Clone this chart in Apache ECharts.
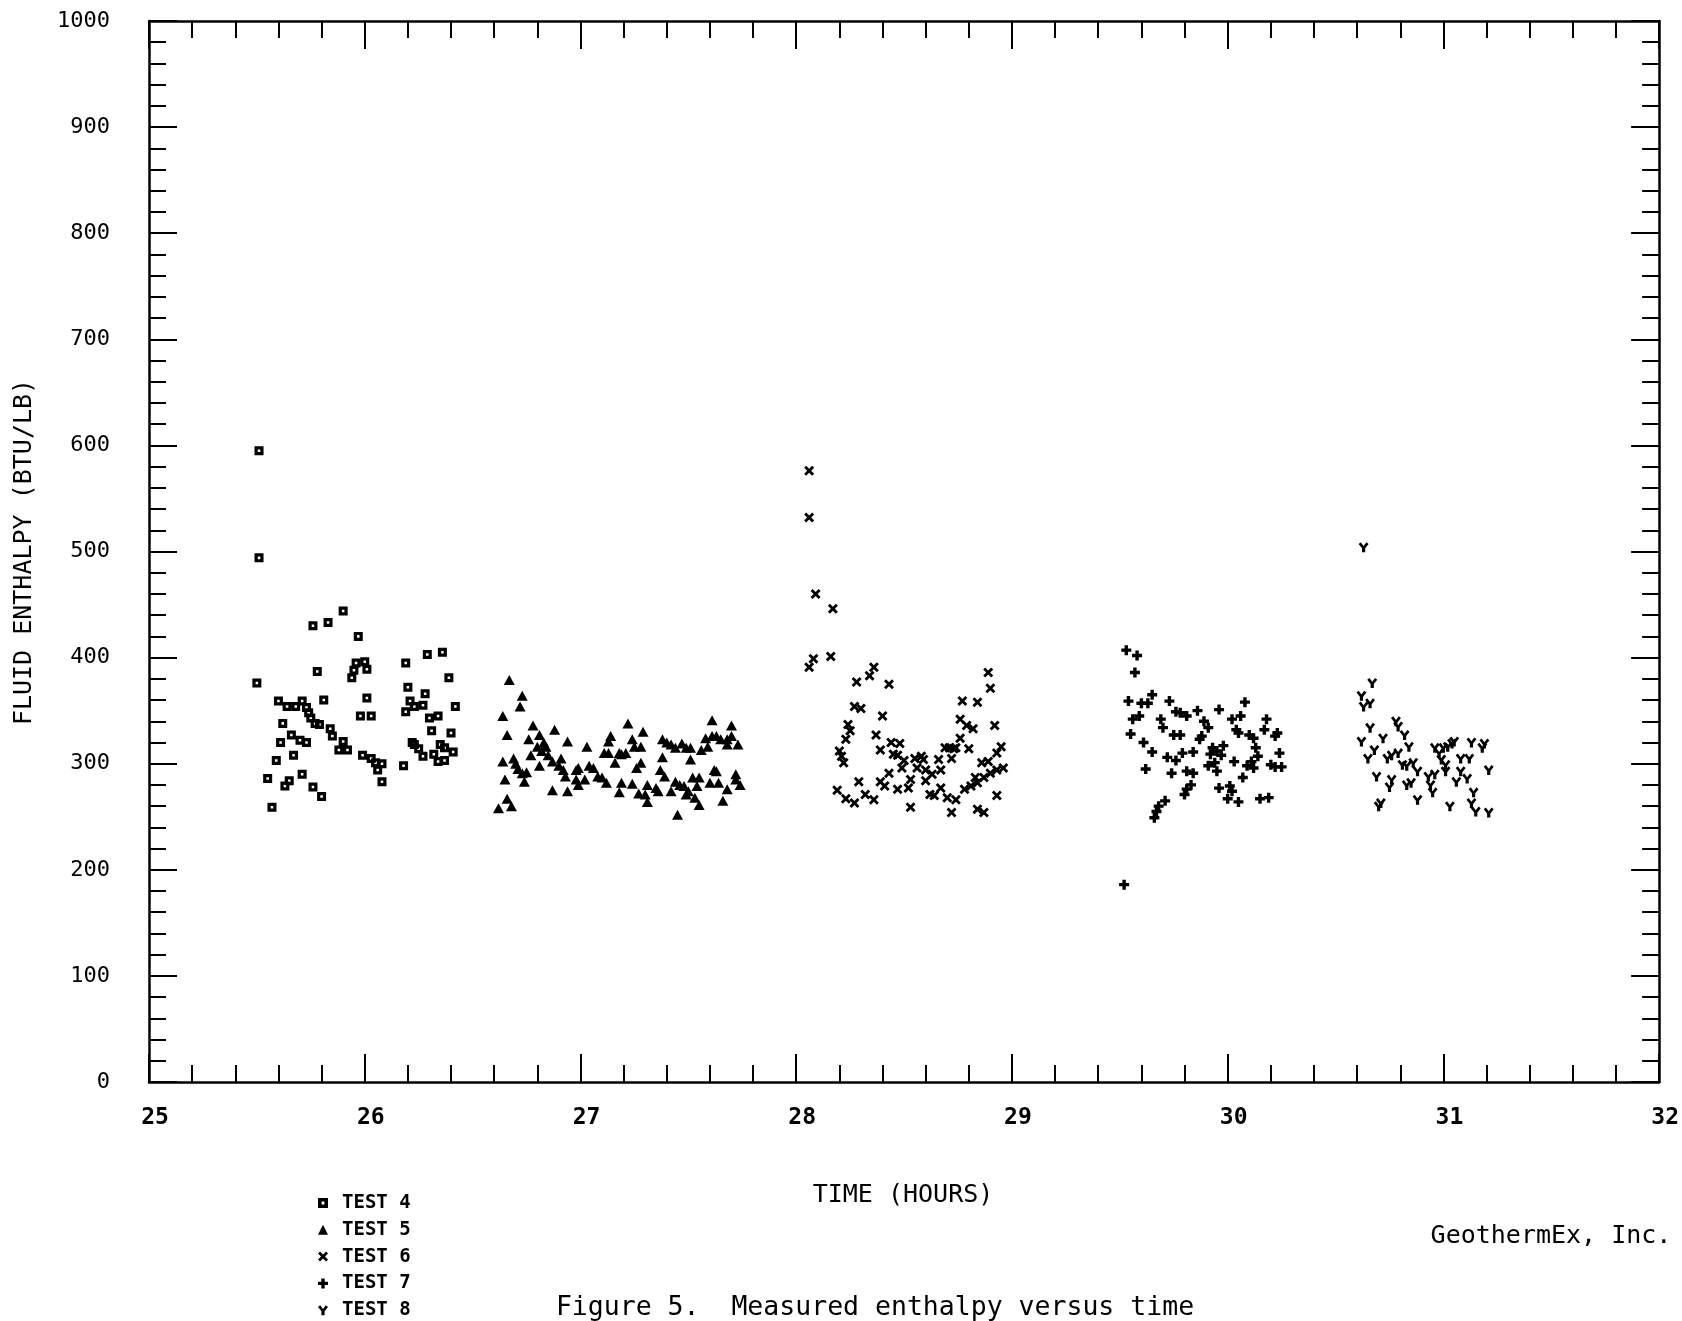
<!DOCTYPE html>
<html>
<head>
<meta charset="utf-8">
<title>Measured enthalpy versus time</title>
<script src="https://cdn.jsdelivr.net/npm/echarts@6/dist/echarts.min.js"></script>
<style>
  html, body { margin: 0; padding: 0; background: #fff; }
  #chart { width: 1682px; height: 1321px; }
</style>
</head>
<body>
<div id="chart"></div>
<script>
// Time axis (hours) and enthalpy axis (BTU/LB) ticks
const xTicks = [25, 26, 27, 28, 29, 30, 31, 32];
const yTicks = [0, 100, 200, 300, 400, 500, 600, 700, 800, 900, 1000];

// TEST 4
const test4Hours = [25.51, 25.51, 25.90, 25.76, 25.83, 25.97, 25.78, 25.50, 25.96, 26.00,
  25.95, 26.01, 25.94, 26.19, 26.29, 26.36, 26.39, 26.20, 26.28, 26.42,
  26.21, 26.19, 26.23, 26.27, 26.30, 26.34, 26.31, 26.40, 26.23, 26.25,
  26.27, 26.22, 26.32, 26.35, 26.37, 26.41, 26.34, 26.37, 26.18, 25.60,
  25.64, 25.68, 25.71, 25.73, 25.74, 25.75, 25.77, 25.79, 25.81, 25.62,
  25.66, 25.61, 25.70, 25.73, 25.67, 25.59, 25.55, 25.65, 25.63, 25.71,
  25.76, 25.80, 25.57, 25.84, 25.85, 25.90, 25.88, 25.92, 26.01, 25.98,
  26.03, 25.99, 26.03, 26.05, 26.08, 26.06, 26.08];
const test4Enthalpy = [595, 494, 444, 430, 433, 420, 387, 376, 395, 396,
  388, 389, 381, 395, 403, 405, 381, 372, 366, 354,
  359, 349, 354, 355, 343, 345, 331, 329, 318, 314,
  307, 320, 309, 318, 315, 311, 302, 303, 298, 359,
  354, 354, 359, 353, 348, 343, 338, 337, 360, 338,
  327, 320, 322, 320, 308, 303, 286, 284, 279, 290,
  278, 269, 259, 333, 326, 321, 313, 313, 362, 345,
  345, 308, 305, 301, 300, 294, 283];

// TEST 5
const test5Hours = [26.67, 26.73, 26.72, 26.64, 26.66, 26.78, 26.76, 26.81, 26.88, 26.94,
  26.83, 26.84, 26.80, 26.82, 26.85, 26.77, 26.64, 26.69, 26.70, 26.71,
  26.73, 26.75, 26.74, 26.81, 26.65, 26.66, 26.68, 26.62, 26.87, 26.90,
  26.91, 26.92, 26.93, 26.87, 26.94, 26.98, 26.99, 26.98, 26.99, 27.02,
  27.03, 27.04, 27.06, 27.08, 27.10, 27.12, 27.11, 27.13, 27.14, 27.13,
  27.16, 27.18, 27.19, 27.21, 27.22, 27.24, 27.25, 27.28, 27.29, 27.28,
  27.26, 27.19, 27.18, 27.24, 27.27, 27.30, 27.31, 27.31, 27.35, 27.36,
  27.38, 27.37, 27.39, 27.38, 27.40, 27.42, 27.44, 27.42, 27.45, 27.44,
  27.46, 27.48, 27.47, 27.49, 27.51, 27.51, 27.50, 27.49, 27.52, 27.55,
  27.54, 27.53, 27.55, 27.56, 27.59, 27.58, 27.61, 27.61, 27.63, 27.65,
  27.68, 27.70, 27.70, 27.68, 27.73, 27.62, 27.63, 27.60, 27.64, 27.68,
  27.66, 27.72, 27.72, 27.74];
const test5Enthalpy = [379, 364, 354, 345, 327, 336, 323, 327, 332, 321,
  320, 316, 316, 312, 308, 308, 302, 305, 300, 295,
  291, 292, 283, 298, 285, 267, 260, 258, 302, 298,
  305, 294, 288, 275, 274, 294, 296, 285, 280, 285,
  316, 298, 296, 288, 287, 282, 310, 310, 326, 321,
  301, 310, 309, 310, 338, 323, 316, 316, 330, 301,
  296, 282, 273, 281, 272, 271, 264, 280, 277, 274,
  306, 294, 288, 323, 320, 318, 315, 274, 252, 283,
  280, 279, 319, 315, 315, 304, 274, 271, 287, 287,
  279, 268, 261, 313, 316, 324, 341, 326, 326, 323,
  323, 326, 336, 318, 318, 294, 293, 282, 282, 276,
  265, 290, 285, 280];

// TEST 6
const test6Hours = [28.06, 28.06, 28.09, 28.17, 28.06, 28.08, 28.16, 28.28, 28.34, 28.36,
  28.43, 28.27, 28.30, 28.40, 28.24, 28.25, 28.23, 28.37, 28.20, 28.21,
  28.22, 28.39, 28.44, 28.48, 28.45, 28.47, 28.50, 28.49, 28.55, 28.58,
  28.59, 28.56, 28.60, 28.43, 28.39, 28.41, 28.29, 28.19, 28.23, 28.27,
  28.32, 28.36, 28.47, 28.52, 28.53, 28.53, 28.60, 28.63, 28.67, 28.66,
  28.62, 28.64, 28.67, 28.70, 28.74, 28.72, 28.69, 28.71, 28.73, 28.74,
  28.76, 28.76, 28.79, 28.82, 28.77, 28.84, 28.80, 28.72, 28.78, 28.81,
  28.83, 28.84, 28.87, 28.90, 28.93, 28.96, 28.84, 28.87, 28.86, 28.89,
  28.93, 28.89, 28.90, 28.92, 28.95, 28.93];
const test6Enthalpy = [576, 532, 460, 446, 391, 399, 401, 377, 383, 391,
  375, 354, 352, 345, 337, 331, 323, 327, 312, 307,
  301, 313, 320, 319, 309, 308, 303, 296, 305, 307,
  304, 296, 294, 291, 283, 279, 283, 275, 267, 263,
  271, 266, 276, 277, 285, 259, 284, 290, 294, 304,
  271, 270, 277, 268, 266, 305, 315, 315, 314, 315,
  324, 342, 336, 333, 359, 358, 314, 254, 276, 279,
  287, 282, 287, 291, 294, 296, 257, 254, 301, 302,
  270, 386, 371, 336, 316, 310];

// TEST 7
const test7Hours = [29.53, 29.58, 29.57, 29.54, 29.60, 29.63, 29.65, 29.73, 29.59, 29.56,
  29.69, 29.70, 29.76, 29.78, 29.81, 29.86, 29.96, 30.08, 30.06, 30.02,
  29.89, 29.91, 29.55, 29.75, 29.78, 29.88, 29.87, 30.04, 30.05, 30.10,
  30.12, 30.18, 30.17, 30.23, 30.22, 29.61, 29.65, 29.62, 29.72, 29.76,
  29.79, 29.84, 29.93, 29.92, 29.98, 29.97, 29.95, 29.94, 29.91, 29.95,
  30.03, 30.13, 30.14, 30.11, 30.09, 30.12, 30.24, 30.20, 30.22, 30.25,
  30.07, 29.74, 29.81, 29.84, 29.83, 29.81, 29.80, 29.96, 30.01, 30.02,
  30.00, 30.05, 30.15, 30.19, 29.71, 29.68, 29.67, 29.66, 29.52];
const test7Enthalpy = [407, 402, 386, 359, 357, 357, 365, 359, 345, 342,
  342, 334, 349, 348, 345, 350, 351, 358, 345, 342,
  340, 334, 328, 327, 327, 326, 323, 332, 329, 327,
  324, 342, 332, 329, 326, 320, 311, 295, 306, 303,
  310, 311, 315, 309, 317, 308, 312, 301, 298, 293,
  302, 315, 307, 302, 298, 296, 310, 299, 297, 297,
  287, 291, 293, 291, 280, 276, 271, 277, 279, 274,
  267, 264, 267, 268, 265, 260, 255, 249, 186];

// TEST 8
const test8Hours = [30.63, 30.67, 30.62, 30.63, 30.66, 30.66, 30.62, 30.72, 30.78, 30.79,
  30.82, 30.68, 30.65, 30.74, 30.76, 30.79, 30.84, 30.81, 30.83, 30.86,
  30.88, 30.69, 30.76, 30.75, 30.83, 30.85, 30.71, 30.70, 30.88, 30.93,
  30.94, 30.95, 30.96, 30.96, 30.98, 30.99, 31.00, 31.02, 31.05, 31.04,
  31.01, 31.01, 31.03, 31.06, 31.08, 31.12, 31.08, 31.11, 31.13, 31.19,
  31.18, 31.14, 31.13, 31.15, 31.21, 31.21];
const test8Enthalpy = [504, 376, 364, 354, 357, 334, 321, 324, 340, 335,
  327, 313, 305, 305, 308, 310, 316, 299, 298, 301,
  293, 288, 285, 278, 280, 282, 263, 260, 266, 288,
  280, 273, 290, 315, 310, 304, 315, 316, 321, 319,
  299, 293, 260, 283, 305, 305, 293, 286, 320, 319,
  315, 273, 263, 255, 294, 254];

const seriesNames = ['TEST 4', 'TEST 5', 'TEST 6', 'TEST 7', 'TEST 8'];

// Plotter-style marker glyphs
const markSquare = 'path://M0,0H10V10H0Z M3.6,3.6V6.4H6.4V3.6Z';
const markTriangle = 'path://M5,0L10,10H0Z';
const markCross = 'path://M0,2L2,0L5,3L8,0L10,2L7,5L10,8L8,10L5,7L2,10L0,8L3,5Z';
const markPlus = 'path://M3.3,0H6.7V3.3H10V6.7H6.7V10H3.3V6.7H0V3.3H3.3Z';
const markY = 'path://M0,1.8L2.2,0L5,3.8L7.8,0L10,1.8L6.6,6V10H3.4V6Z';

const symbols = [markSquare, markTriangle, markCross, markPlus, markY];
const symbolSizes = [[9, 9], [11, 10], [10, 10], [10, 10], [10, 10]];

function pairs(xs, ys) {
  return xs.map((x, i) => [x, ys[i]]);
}
const seriesData = [
  pairs(test4Hours, test4Enthalpy),
  pairs(test5Hours, test5Enthalpy),
  pairs(test6Hours, test6Enthalpy),
  pairs(test7Hours, test7Enthalpy),
  pairs(test8Hours, test8Enthalpy)
];

const mono = '"DejaVu Sans Mono", "Liberation Mono", monospace';
const ink = '#000';

function frameAxis(extra) {
  return Object.assign({
    type: 'value',
    axisLine: { show: true, onZero: false, lineStyle: { color: ink, width: 2.5 } },
    axisTick: { show: true, inside: true, length: 28, lineStyle: { color: ink, width: 2 } },
    minorTick: { show: true, splitNumber: 5, length: 17, lineStyle: { color: ink, width: 2 } },
    splitLine: { show: false },
    minorSplitLine: { show: false }
  }, extra);
}

const chart = echarts.init(document.getElementById('chart'), null, { renderer: 'canvas' });

chart.setOption({
  backgroundColor: '#fff',
  animation: false,
  grid: { left: 149, right: 22, top: 21, bottom: 239, containLabel: false },
  xAxis: [
    frameAxis({
      position: 'bottom',
      min: xTicks[0], max: xTicks[xTicks.length - 1], interval: 1,
      axisLabel: {
        show: true, margin: 25, color: ink, fontFamily: mono, fontSize: 23, fontWeight: 'bold',
        padding: [0, 0, 0, 12],
        formatter: v => String(v)
      }
    }),
    frameAxis({
      position: 'top',
      min: xTicks[0], max: xTicks[xTicks.length - 1], interval: 1,
      axisLabel: { show: false }
    })
  ],
  yAxis: [
    frameAxis({
      position: 'left',
      min: yTicks[0], max: yTicks[yTicks.length - 1], interval: 100,
      axisLabel: {
        show: true, margin: 39, color: ink, fontFamily: mono, fontSize: 22,
        formatter: v => String(v)
      }
    }),
    frameAxis({
      position: 'right',
      min: yTicks[0], max: yTicks[yTicks.length - 1], interval: 100,
      axisLabel: { show: false }
    })
  ],
  legend: {
    orient: 'vertical',
    left: 313,
    top: 1188,
    height: 160,
    itemWidth: 10,
    itemHeight: 10,
    itemGap: 6.8,
    selectedMode: false,
    textStyle: {
      color: ink, fontFamily: mono, fontSize: 19, fontWeight: 'bold',
      lineHeight: 20, padding: [0, 0, 0, 9]
    },
    data: seriesNames.map((name, i) => ({ name: name, icon: symbols[i] }))
  },
  series: seriesNames.map((name, i) => ({
    name: name,
    type: 'scatter',
    xAxisIndex: 0,
    yAxisIndex: 0,
    symbol: symbols[i],
    symbolSize: symbolSizes[i],
    itemStyle: { color: ink, opacity: 1 },
    emphasis: { disabled: true },
    data: seriesData[i]
  })),
  graphic: [
    {
      type: 'text',
      x: 24, y: 552, rotation: Math.PI / 2,
      style: {
        text: 'FLUID ENTHALPY (BTU/LB)', fontFamily: mono, fontSize: 25,
        fill: ink, align: 'center', verticalAlign: 'middle'
      }
    },
    {
      type: 'text',
      x: 903, y: 1195,
      style: {
        text: 'TIME (HOURS)', fontFamily: mono, fontSize: 25,
        fill: ink, align: 'center', verticalAlign: 'middle'
      }
    },
    {
      type: 'text',
      x: 1551, y: 1236,
      style: {
        text: 'GeothermEx, Inc.', fontFamily: mono, fontSize: 25,
        fill: ink, align: 'center', verticalAlign: 'middle'
      }
    },
    {
      type: 'text',
      x: 875, y: 1308,
      style: {
        text: 'Figure 5.  Measured enthalpy versus time',
        fontFamily: mono, fontSize: 26.5, fill: ink, align: 'center', verticalAlign: 'middle'
      }
    }
  ]
});
</script>
</body>
</html>
